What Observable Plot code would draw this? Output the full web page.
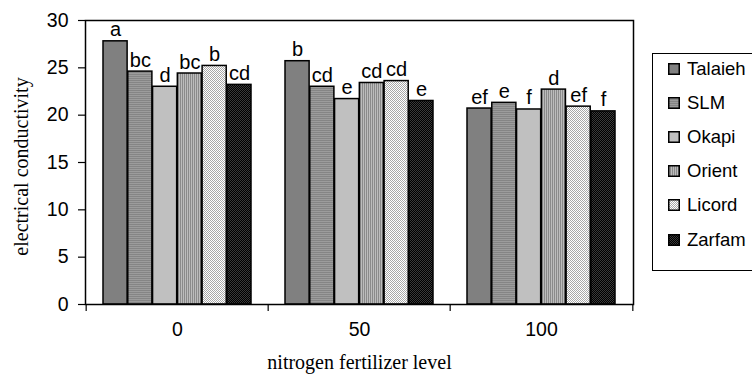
<!DOCTYPE html>
<html>
<head>
<meta charset="utf-8">
<script src="https://cdn.jsdelivr.net/npm/d3@7"></script>
<script src="https://cdn.jsdelivr.net/npm/@observablehq/plot@0.6"></script>
<style>
  html, body { margin: 0; padding: 0; background: #fff; }
  #wrap { position: relative; width: 752px; height: 376px; overflow: hidden; font-family: "Liberation Sans", Arial, sans-serif; }
  #legend { position: absolute; left: 652px; top: 53px; width: 130px; height: 218px; border: 1px solid #000; box-sizing: border-box; background: #fff; }
  .item { position: absolute; left: 15px; height: 20px; display: flex; align-items: center; font-size: 18.5px; color: #000; white-space: nowrap; }
  .item svg { margin-right: 7px; }
</style>
</head>
<body>
<svg width="0" height="0" style="position:absolute">
  <defs>
    <pattern id="p0" width="2" height="2" patternUnits="userSpaceOnUse"><rect width="2" height="2" fill="#808080"/></pattern>
    <pattern id="p1" width="2" height="2" patternUnits="userSpaceOnUse"><rect width="2" height="1" fill="#858585"/><rect y="1" width="2" height="1" fill="#9c9c9c"/></pattern>
    <pattern id="p2" width="2" height="2" patternUnits="userSpaceOnUse"><rect width="2" height="2" fill="#c0c0c0"/></pattern>
    <pattern id="p3" width="2" height="2" patternUnits="userSpaceOnUse"><rect width="1" height="2" fill="#8a8a8a"/><rect x="1" width="1" height="2" fill="#bcbcbc"/></pattern>
    <pattern id="p4" width="2" height="2" patternUnits="userSpaceOnUse"><rect width="2" height="2" fill="#ffffff"/><rect width="1" height="1" fill="#a8a8a8"/><rect x="1" y="1" width="1" height="1" fill="#a8a8a8"/></pattern>
    <pattern id="p5" width="2" height="2" patternUnits="userSpaceOnUse"><rect width="2" height="2" fill="#000000"/><rect width="1" height="1" fill="#3a3a3a"/><rect x="1" y="1" width="1" height="1" fill="#3a3a3a"/></pattern>
  </defs>
</svg>
<div id="wrap"><div id="legend"></div></div>
<script>
const levels = ["0", "50", "100"];
const varieties = ["Talaieh", "SLM", "Okapi", "Orient", "Licord", "Zarfam"];
const ec0   = [27.8, 24.6, 23.0, 24.4, 25.2, 23.2];
const ec50  = [25.7, 23.0, 21.7, 23.4, 23.6, 21.5];
const ec100 = [20.7, 21.3, 20.6, 22.7, 20.9, 20.4];
const letters0   = ["a", "bc", "d", "bc", "b", "cd"];
const letters50  = ["b", "cd", "e", "cd", "cd", "e"];
const letters100 = ["ef", "e", "f", "d", "ef", "f"];
const yTicks = [0, 5, 10, 15, 20, 25, 30];

const patterns = ["url(#p0)", "url(#p1)", "url(#p2)", "url(#p3)", "url(#p4)", "url(#p5)"];

const series = [ec0, ec50, ec100];
const letterSets = [letters0, letters50, letters100];
const data = [];
levels.forEach((lv, j) => {
  varieties.forEach((v, i) => {
    data.push({level: lv, variety: v, idx: i, value: series[j][i], letter: letterSets[j][i]});
  });
});

const W = 752, H = 376;
const mL = 85, mR = 119, mT = 20, mB = 72;
const step = (W - mL - mR) / levels.length;
const gap = 17;
const barW = (step - 2 * gap) / varieties.length;

const marks = [];
varieties.forEach((v, i) => {
  const sub = data.filter(d => d.variety === v);
  marks.push(Plot.barY(sub, {
    x: "level", y: "value", fill: "variety",
    stroke: "#000", strokeWidth: 1.5,
    insetLeft: gap + i * barW,
    insetRight: step - gap - (i + 1) * barW
  }));
  marks.push(Plot.text(sub, {
    x: "level", y: "value", text: "letter",
    dx: -step / 2 + gap + (i + 0.5) * barW, dy: -5,
    lineAnchor: "bottom", fontSize: 20, fill: "#000"
  }));
});

const chart = Plot.plot({
  width: W, height: H,
  marginLeft: mL, marginRight: mR, marginTop: mT, marginBottom: mB,
  style: {fontFamily: "'Liberation Sans', Arial, sans-serif", fontSize: "19.5px", color: "#000", background: "#fff"},
  x: {domain: levels, padding: 0},
  y: {domain: [0, 30]},
  color: {domain: varieties, range: patterns},
  marks: [
    ...marks,
    Plot.frame({stroke: "#000", strokeWidth: 1.5}),
    Plot.axisY(yTicks, {tickSize: 7, tickPadding: 10, label: null, fontSize: 19.5, strokeWidth: 1.2}),
    Plot.axisX({tickSize: 0, tickPadding: 18, label: null, fontSize: 19.5}),
    Plot.axisX(levels, {tickSize: 7, tickFormat: () => "", dx: -step / 2, label: null, strokeWidth: 1.2}),
    Plot.axisX([levels[levels.length - 1]], {tickSize: 7, tickFormat: () => "", dx: step / 2, label: null, strokeWidth: 1.2}),
    Plot.text(["electrical conductivity"], {frameAnchor: "left", textAnchor: "middle", rotate: -90, dx: -64, dy: 4, fontFamily: "'Liberation Serif', 'Times New Roman', serif", fontSize: 20, fill: "#000"}),
    Plot.text(["nitrogen fertilizer level"], {frameAnchor: "bottom", dy: 64, fontFamily: "'Liberation Serif', 'Times New Roman', serif", fontSize: 20, fill: "#000"})
  ]
});

const wrap = document.getElementById("wrap");
wrap.insertBefore(chart, wrap.firstChild);

const legend = document.getElementById("legend");
varieties.forEach((v, i) => {
  const item = document.createElement("div");
  item.className = "item";
  item.style.top = (5 + i * 34.1) + "px";
  item.innerHTML = `<svg width="12" height="12"><rect x="0.75" y="0.75" width="10.5" height="10.5" fill="${patterns[i]}" stroke="#000" stroke-width="1.5"/></svg><span>${v}</span>`;
  legend.appendChild(item);
});
</script>
</body>
</html>
